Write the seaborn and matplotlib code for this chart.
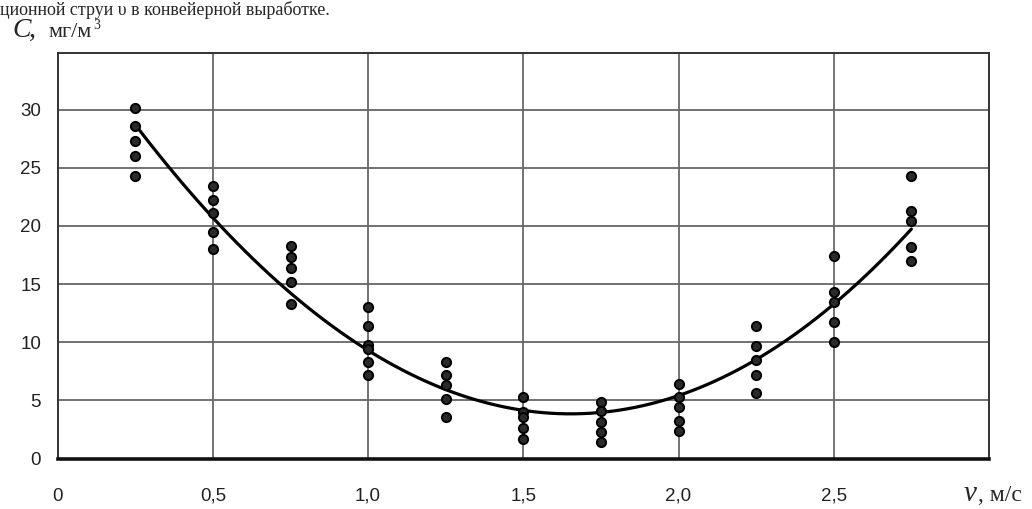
import numpy as np
import pandas as pd
import matplotlib
matplotlib.use("Agg")
import matplotlib.pyplot as plt
import seaborn as sns

# ---- data ----
v_groups = [0.25, 0.5, 0.75, 1.0, 1.25, 1.5, 1.75, 2.0, 2.25, 2.5, 2.75]
c_values = [
    [30.1, 28.6, 27.3, 26.0, 24.3],
    [23.4, 22.2, 21.1, 19.5, 18.0],
    [18.3, 17.3, 16.4, 15.2, 13.3],
    [13.0, 11.4, 9.8, 9.4, 8.3, 7.2],
    [8.3, 7.2, 6.3, 5.1, 3.6],
    [5.3, 4.0, 3.6, 2.6, 1.7],
    [4.9, 4.05, 3.1, 2.3, 1.4],
    [6.4, 5.3, 4.4, 3.2, 2.35],
    [11.4, 9.7, 8.5, 7.2, 5.6],
    [17.4, 14.3, 13.5, 11.7, 10.0],
    [24.3, 21.3, 20.4, 18.2, 17.0],
]
# trend curve as drawn in the reference (fitted with a cubic)
trend_v = [0.25, 0.5, 0.75, 1.0, 1.25, 1.5, 1.75, 2.0, 2.25, 2.5, 2.75]
trend_c = [28.6, 20.9, 14.2, 9.3, 5.9, 4.0, 4.0, 5.5, 8.5, 13.3, 19.7]

x_ticks = [0, 0.5, 1.0, 1.5, 2.0, 2.5]
x_ticklabels = ["0", "0,5", "1,0", "1,5", "2,0", "2,5"]
y_ticks = [0, 5, 10, 15, 20, 25, 30]
y_ticklabels = ["0", "5", "10", "15", "20", "25", "30"]

rows = [(v, c) for v, cs in zip(v_groups, c_values) for c in cs]
df = pd.DataFrame(rows, columns=["v", "C"])
trend = pd.DataFrame({"v": trend_v, "C": trend_c})

sns.set_theme(style="white")
plt.rcParams["font.family"] = ["Liberation Sans", "DejaVu Sans"]

fig = plt.figure(figsize=(10.32, 5.09), dpi=100)
ax = fig.add_axes([0.0559, 0.0992, 0.9583 - 0.0559, 0.8965 - 0.0992])

sns.regplot(data=trend, x="v", y="C", order=3, ci=None, scatter=False,
            truncate=True, ax=ax, line_kws=dict(color="black", lw=2.3, zorder=4))
sns.scatterplot(data=df, x="v", y="C", ax=ax, s=44, color="#2a2a2a",
                edgecolor="black", linewidth=1.4, zorder=5)

ax.set_xlim(0, 3.0)
ax.set_ylim(0, 34.9)

for xv in [0.5, 1.0, 1.5, 2.0, 2.5]:
    ax.axvline(xv, color="#4d4d4d", lw=1.1, zorder=1)
for yv in [5, 10, 15, 20, 25, 30]:
    ax.axhline(yv, color="#666666", lw=1.3, zorder=1)

ax.set_xticks(x_ticks)
ax.set_xticklabels(x_ticklabels)
ax.set_yticks(y_ticks)
ax.set_yticklabels(y_ticklabels)
ax.tick_params(axis="x", length=0, pad=21, labelsize=13.5, colors="#222222")
ax.tick_params(axis="y", length=0, pad=12, labelsize=13.5, colors="#222222")
ax.set_xlabel("")
ax.set_ylabel("")

for side in ["left", "top", "right"]:
    ax.spines[side].set_visible(True)
    ax.spines[side].set_color("#333333")
    ax.spines[side].set_linewidth(1.4)
ax.spines["bottom"].set_visible(True)
ax.spines["bottom"].set_color("#111111")
ax.spines["bottom"].set_linewidth(2.6)

# axis captions
fig.text(0.012, 0.927, "C", fontsize=20, fontstyle="italic",
         family="Liberation Serif", va="baseline", ha="left")
fig.text(0.028, 0.927, ",", fontsize=20, family="Liberation Serif",
         va="baseline", ha="left")
fig.text(0.047, 0.927, "мг/м", fontsize=16, family="Liberation Serif",
         va="baseline", ha="left")
fig.text(0.0905, 0.943, "3", fontsize=10, family="Liberation Serif",
         va="baseline", ha="left")
fig.text(0.934, 0.016, "v", fontsize=21, fontstyle="italic",
         family="Liberation Serif", va="baseline", ha="left")
fig.text(0.948, 0.016, ", м/с", fontsize=17, family="Liberation Serif",
         va="baseline", ha="left")

# line of the surrounding text at the very top
fig.text(0.0, 0.971, "ционной струи υ в конвейерной выработке.",
         fontsize=13, family="Liberation Serif", va="baseline", ha="left")

fig.savefig("out.png", dpi=100)
